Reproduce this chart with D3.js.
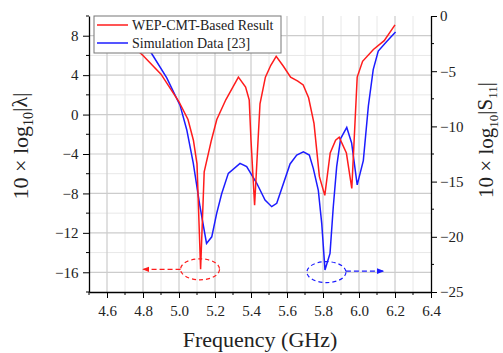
<!DOCTYPE html>
<html>
<head>
<meta charset="utf-8">
<script src="https://cdn.jsdelivr.net/npm/d3@7"></script>
<style>
  body { margin: 0; background: #fff; }
  svg text { font-family: 'Liberation Serif', 'DejaVu Serif', 'Times New Roman', Times, serif; fill: #222; }
</style>
</head>
<body>
<div id="chart"></div>
<script>
// Frequency (GHz) and values
const redFreq = [4.75, 4.8, 4.9, 5.0, 5.05, 5.08, 5.1, 5.12, 5.14, 5.18, 5.21, 5.26, 5.33, 5.37, 5.39, 5.40, 5.42, 5.45, 5.48, 5.51, 5.54, 5.58, 5.62, 5.66, 5.69, 5.72, 5.75, 5.78, 5.81, 5.84, 5.87, 5.89, 5.93, 5.96, 5.99, 6.02, 6.08, 6.14, 6.2];
const redVal = [6.8, 6.0, 4.1, 1.3, -0.5, -2.6, -5.0, -15.7, -5.8, -2.6, -0.5, 1.5, 3.8, 2.8, 1.5, -2.6, -9.2, 1.1, 3.8, 5.0, 5.9, 4.9, 3.8, 3.4, 3.0, 1.7, -0.9, -6.3, -8.2, -3.9, -2.6, -2.3, -3.9, -7.5, 3.8, 5.4, 6.6, 7.5, 9.1];

const blueFreq = [4.8, 4.848, 4.932, 5.006, 5.043, 5.079, 5.117, 5.153, 5.182, 5.209, 5.237, 5.274, 5.339, 5.376, 5.432, 5.478, 5.515, 5.543, 5.617, 5.654, 5.691, 5.724, 5.746, 5.774, 5.793, 5.811, 5.839, 5.857, 5.876, 5.898, 5.932, 5.959, 5.99, 6.024, 6.052, 6.079, 6.107, 6.154, 6.203];
const blueVal = [-2.4, -3.4, -5.6, -8.1, -10.3, -13.3, -17.3, -20.6, -20.0, -17.9, -16.1, -14.25, -13.35, -13.65, -15.15, -16.67, -17.27, -16.97, -13.4, -12.6, -12.3, -12.6, -13.8, -15.8, -18.8, -23.0, -21.5, -17.3, -13.65, -11.1, -10.1, -11.5, -15.3, -13.1, -8.15, -4.85, -3.17, -2.3, -1.45];

const xTicks = [4.6, 4.8, 5.0, 5.2, 5.4, 5.6, 5.8, 6.0, 6.2, 6.4];
const leftTicks = [-16, -12, -8, -4, 0, 4, 8];
const rightTicks = [-25, -20, -15, -10, -5, 0];
const seriesNames = ['WEP-CMT-Based Result', 'Simulation Data [23]'];

const width = 503, height = 353;
const margin = { top: 16, right: 72, bottom: 61, left: 89 };
const plotW = width - margin.left - margin.right;
const plotH = height - margin.top - margin.bottom;

const redColor = '#ff1c1c';
const blueColor = '#1c1cff';
const serif = "'Liberation Serif', 'DejaVu Serif', 'Times New Roman', Times, serif";

const svg = d3.select('#chart')
    .append('svg')
    .attr('width', width)
    .attr('height', height)
    .attr('font-family', serif);

const graph = svg.append('g')
    .attr('transform', `translate(${margin.left}, ${margin.top})`);

const x = d3.scaleLinear().domain([4.5, 6.4]).range([0, plotW]);
const yL = d3.scaleLinear().domain([-18, 10]).range([plotH, 0]);
const yR = d3.scaleLinear().domain([-25, 0]).range([plotH, 0]);

// grid - minor first, then major
const xMinor = d3.range(4.5, 6.41, 0.1).map(d => +d.toFixed(1)).filter(d => !xTicks.includes(d));
const yMinor = d3.range(-18, 10.01, 2).filter(d => !leftTicks.includes(d));
const rMinor = d3.range(-22.5, 0, 5);

graph.append('g').selectAll('line')
    .data(xMinor.filter(d => d > 4.5))
    .enter().append('line')
    .attr('x1', d => x(d)).attr('x2', d => x(d))
    .attr('y1', 0).attr('y2', plotH)
    .attr('stroke', '#e8e8e8').attr('stroke-width', 1);

graph.append('g').selectAll('line')
    .data(yMinor.filter(d => d > -18 && d < 10))
    .enter().append('line')
    .attr('x1', 0).attr('x2', plotW)
    .attr('y1', d => yL(d)).attr('y2', d => yL(d))
    .attr('stroke', '#e8e8e8').attr('stroke-width', 1);

graph.append('g').selectAll('line')
    .data(xTicks.filter(d => d < 6.4))
    .enter().append('line')
    .attr('x1', d => x(d)).attr('x2', d => x(d))
    .attr('y1', 0).attr('y2', plotH)
    .attr('stroke', '#cccccc').attr('stroke-width', 1.2);

graph.append('g').selectAll('line')
    .data(leftTicks)
    .enter().append('line')
    .attr('x1', 0).attr('x2', plotW)
    .attr('y1', d => yL(d)).attr('y2', d => yL(d))
    .attr('stroke', '#cccccc').attr('stroke-width', 1.2);

// lines
const redLine = d3.line()
    .x((d, i) => x(redFreq[i]))
    .y(d => yL(d));
const blueLine = d3.line()
    .x((d, i) => x(blueFreq[i]))
    .y(d => yR(d));

graph.append('path')
    .datum(blueVal)
    .attr('fill', 'none')
    .attr('stroke', blueColor)
    .attr('stroke-width', 1.5)
    .attr('d', blueLine);

graph.append('path')
    .datum(redVal)
    .attr('fill', 'none')
    .attr('stroke', redColor)
    .attr('stroke-width', 1.5)
    .attr('d', redLine);

// axes
const tickFont = '15px';

const xAxis = d3.axisBottom(x).tickValues(xTicks).tickFormat(d3.format('.1f')).tickSize(6).tickSizeOuter(0);
const xAxisGroup = graph.append('g')
    .attr('transform', `translate(0, ${plotH})`)
    .call(xAxis);
xAxisGroup.selectAll('text').attr('font-size', tickFont).attr('dy', '1.0em');
xAxisGroup.append('g').selectAll('line')
    .data(xMinor)
    .enter().append('line')
    .attr('x1', d => x(d)).attr('x2', d => x(d))
    .attr('y1', 0).attr('y2', 3)
    .attr('stroke', '#000');

const yAxis = d3.axisLeft(yL).tickValues(leftTicks).tickSize(6).tickSizeOuter(0);
const yAxisGroup = graph.append('g').call(yAxis);
yAxisGroup.selectAll('text').attr('font-size', tickFont).attr('dx', '-0.1em');
yAxisGroup.append('g').selectAll('line')
    .data(yMinor)
    .enter().append('line')
    .attr('x1', 0).attr('x2', -3)
    .attr('y1', d => yL(d)).attr('y2', d => yL(d))
    .attr('stroke', '#000');

const rAxis = d3.axisRight(yR).tickValues(rightTicks).tickSize(6).tickSizeOuter(0);
const rAxisGroup = graph.append('g')
    .attr('transform', `translate(${plotW}, 0)`)
    .call(rAxis);
rAxisGroup.selectAll('text').attr('font-size', tickFont);
rAxisGroup.append('g').selectAll('line')
    .data(rMinor)
    .enter().append('line')
    .attr('x1', 0).attr('x2', 3)
    .attr('y1', d => yR(d)).attr('y2', d => yR(d))
    .attr('stroke', '#000');

[xAxisGroup, yAxisGroup, rAxisGroup].forEach(g => {
    g.attr('font-family', serif);
    g.select('.domain').attr('stroke', '#000').attr('stroke-width', 1.3);
    g.selectAll('.tick line').attr('stroke', '#000');
    g.selectAll('text').style('fill', '#222');
});

// axis labels
graph.append('text')
    .attr('x', plotW / 2)
    .attr('y', plotH + 55)
    .attr('text-anchor', 'middle')
    .attr('font-size', '22px')
    .text('Frequency (GHz)');

const leftLabel = graph.append('text')
    .attr('transform', `translate(${-61}, ${plotH / 2 - 8}) rotate(-90)`)
    .attr('text-anchor', 'middle')
    .attr('font-size', '22px');
leftLabel.append('tspan').text('10 \u00d7 log');
leftLabel.append('tspan').attr('font-size', '14px').attr('dy', '0.35em').text('10');
leftLabel.append('tspan').attr('dy', '-0.25em').text('|\u03bb|');

const rightLabel = graph.append('text')
    .attr('transform', `translate(${plotW + 62}, ${plotH / 2 - 14}) rotate(-90)`)
    .attr('text-anchor', 'middle')
    .attr('font-size', '21px');
rightLabel.append('tspan').text('10 \u00d7 log');
rightLabel.append('tspan').attr('font-size', '13px').attr('dy', '0.35em').text('10');
rightLabel.append('tspan').attr('dy', '-0.25em').text('|S');
rightLabel.append('tspan').attr('font-size', '13px').attr('dy', '0.35em').text('11');
rightLabel.append('tspan').attr('dy', '-0.25em').text('|');

// annotations - dashed ellipses with arrows
const defs = svg.append('defs');
[['arrRed', redColor], ['arrBlue', blueColor]].forEach(([id, c]) => {
    defs.append('marker')
        .attr('id', id)
        .attr('viewBox', '0 0 10 10')
        .attr('refX', 9).attr('refY', 5)
        .attr('markerWidth', 6).attr('markerHeight', 6)
        .attr('orient', 'auto')
        .append('path')
        .attr('d', 'M0,1 L10,5 L0,9 Z')
        .attr('fill', c);
});

const redMark = { f: 5.117, v: -15.7, tip: 4.8 };
const blueMark = { f: 5.819, v: -23.2, tip: 6.135 };
const rx = 19.5, ry = 10.5;

graph.append('ellipse')
    .attr('cx', x(redMark.f)).attr('cy', yL(redMark.v))
    .attr('rx', rx).attr('ry', ry)
    .attr('fill', 'none').attr('stroke', redColor)
    .attr('stroke-width', 1.2).attr('stroke-dasharray', '4,3');
graph.append('line')
    .attr('x1', x(redMark.f) - rx).attr('x2', x(redMark.tip))
    .attr('y1', yL(redMark.v)).attr('y2', yL(redMark.v))
    .attr('stroke', redColor).attr('stroke-width', 1.2)
    .attr('stroke-dasharray', '5,3')
    .attr('marker-end', 'url(#arrRed)');

graph.append('ellipse')
    .attr('cx', x(blueMark.f)).attr('cy', yR(blueMark.v))
    .attr('rx', rx).attr('ry', ry)
    .attr('fill', 'none').attr('stroke', blueColor)
    .attr('stroke-width', 1.2).attr('stroke-dasharray', '4,3');
graph.append('line')
    .attr('x1', x(blueMark.f) + rx).attr('x2', x(blueMark.tip))
    .attr('y1', yR(blueMark.v) - 1).attr('y2', yR(blueMark.v) - 1)
    .attr('stroke', blueColor).attr('stroke-width', 1.2)
    .attr('stroke-dasharray', '5,3')
    .attr('marker-end', 'url(#arrBlue)');

// legend
const legend = graph.append('g').attr('transform', 'translate(5, 0)');
legend.append('rect')
    .attr('x', 0).attr('y', 0)
    .attr('width', 187).attr('height', 37)
    .attr('fill', '#fff')
    .attr('stroke', '#777').attr('stroke-width', 1);
const legendItems = legend.selectAll('.item')
    .data(seriesNames)
    .enter().append('g')
    .attr('class', 'item')
    .attr('transform', (d, i) => `translate(0, ${9 + i * 18})`);
legendItems.append('line')
    .attr('x1', 3).attr('x2', 34)
    .attr('y1', 0).attr('y2', 0)
    .attr('stroke', (d, i) => i === 0 ? redColor : blueColor)
    .attr('stroke-width', 1.5);
legendItems.append('text')
    .attr('x', 38)
    .attr('dy', '0.35em')
    .attr('font-size', '14px')
    .text(d => d);
</script>
</body>
</html>
